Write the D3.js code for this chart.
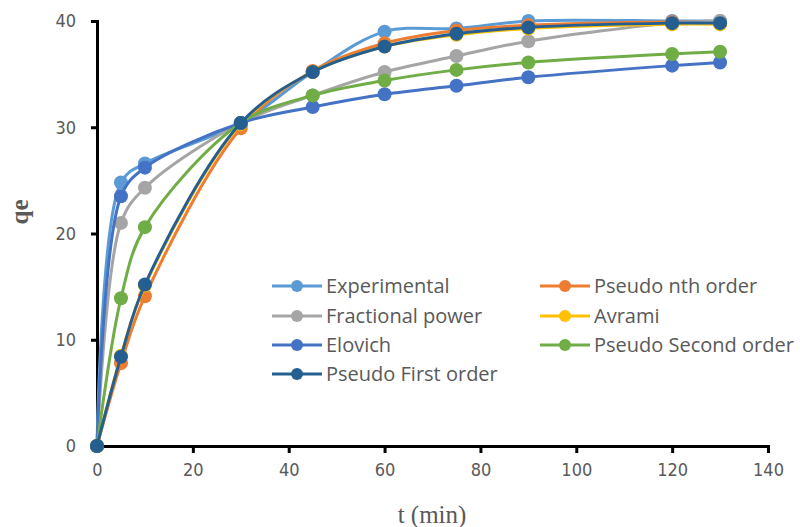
<!DOCTYPE html>
<html>
<head>
<meta charset="utf-8">
<script src="https://cdn.jsdelivr.net/npm/d3@7"></script>
<style>
  body { margin: 0; background: #fff; }
  text { fill: #595959; }
</style>
</head>
<body>
<div id="chart"></div>
<script>
(function () {

  // data
  var times = [0, 5, 10, 30, 45, 60, 75, 90, 120, 130];

  var experimental = [0, 24.8, 26.6, 30.4, 35.2, 39.0, 39.3, 40.0, 40.0, 40.0];
  var pseudoNth    = [0, 7.8, 14.1, 29.9, 35.3, 37.9, 39.1, 39.6, 39.9, 39.9];
  var fractional   = [0, 21.0, 24.3, 30.4, 33.0, 35.2, 36.7, 38.1, 39.8, 40.0];
  var avrami       = [0, 8.5, 15.1, 30.3, 35.2, 37.6, 38.7, 39.3, 39.7, 39.7];
  var elovich      = [0, 23.5, 26.2, 30.4, 31.9, 33.1, 33.9, 34.7, 35.8, 36.1];
  var pseudoSecond = [0, 13.9, 20.6, 30.4, 33.0, 34.4, 35.4, 36.1, 36.9, 37.1];
  var pseudoFirst  = [0, 8.4, 15.2, 30.4, 35.2, 37.6, 38.8, 39.4, 39.8, 39.8];

  var seriesNames = ["Experimental", "Pseudo nth order", "Fractional power", "Avrami",
                     "Elovich", "Pseudo Second order", "Pseudo First order"];
  var seriesValues = [experimental, pseudoNth, fractional, avrami, elovich, pseudoSecond, pseudoFirst];
  var colors = ["#5B9BD5", "#ED7D31", "#A5A5A5", "#FFC000", "#4472C4", "#70AD47", "#255E91"];

  var xTicks = [0, 20, 40, 60, 80, 100, 120, 140];
  var yTicks = [0, 10, 20, 30, 40];

  var width = 800,
      height = 527;

  var svg = d3.select("#chart")
    .append("svg")
    .attr("width", width)
    .attr("height", height);

  // scales
  var x = d3.scaleLinear().domain([0, 140]).range([97, 768]);
  var y = d3.scaleLinear().domain([0, 40]).range([446, 21]);

  // axes
  var xAxis = svg.append("g")
    .attr("transform", "translate(0," + y(0) + ")")
    .call(d3.axisBottom(x).tickValues(xTicks).tickSize(7).tickPadding(10));

  var yAxis = svg.append("g")
    .attr("transform", "translate(" + x(0) + ",0)")
    .call(d3.axisLeft(y).tickValues(yTicks).tickSize(6).tickPadding(15));

  [xAxis, yAxis].forEach(function (a) {
    a.select(".domain").attr("stroke", "#000").attr("stroke-width", 3);
    a.selectAll(".tick line").attr("stroke", "#000").attr("stroke-width", 3);
    a.selectAll(".tick text")
      .style("font-family", "'Liberation Sans Narrow', 'DejaVu Sans Condensed', 'Open Sans', sans-serif")
      .style("font-size", "18px")
      .attr("fill", "#595959");
  });

  // axis titles
  svg.append("text")
    .attr("x", 432)
    .attr("y", 523)
    .attr("text-anchor", "middle")
    .style("font-family", "'Liberation Serif', serif")
    .style("font-size", "25px")
    .text("t (min)");

  svg.append("text")
    .attr("transform", "translate(28,212) rotate(-90)")
    .attr("text-anchor", "middle")
    .style("font-family", "'Liberation Serif', serif")
    .style("font-size", "25px")
    .style("font-weight", "bold")
    .text("qe");

  // series, smoothed like the spreadsheet lines
  var line = d3.line()
    .x(function (d) { return x(d[0]); })
    .y(function (d) { return y(d[1]); })
    .curve(d3.curveCatmullRom.alpha(0.5));

  seriesValues.forEach(function (vals, i) {
    var pts = times.map(function (t, j) { return [t, vals[j]]; });
    var g = svg.append("g");
    g.append("path")
      .datum(pts)
      .attr("d", line)
      .attr("fill", "none")
      .attr("stroke", colors[i])
      .attr("stroke-width", 3);
    g.selectAll("circle")
      .data(pts)
      .enter().append("circle")
      .attr("cx", function (d) { return x(d[0]); })
      .attr("cy", function (d) { return y(d[1]); })
      .attr("r", 7)
      .attr("fill", colors[i]);
  });

  // legend
  var legendPos = [[272, 286], [540, 286], [272, 316], [540, 316], [272, 345], [540, 345], [272, 374]];
  var legend = svg.append("g");
  seriesNames.forEach(function (name, i) {
    var p = legendPos[i];
    var item = legend.append("g").attr("transform", "translate(" + p[0] + "," + p[1] + ")");
    item.append("line")
      .attr("x1", 0).attr("x2", 50)
      .attr("stroke", colors[i]).attr("stroke-width", 3);
    item.append("circle")
      .attr("cx", 25).attr("r", 6)
      .attr("fill", colors[i]);
    item.append("text")
      .attr("x", 54)
      .attr("dy", "0.35em")
      .style("font-family", "'Open Sans', sans-serif")
      .style("font-size", "20px")
      .text(name);
  });

})();
</script>
</body>
</html>
